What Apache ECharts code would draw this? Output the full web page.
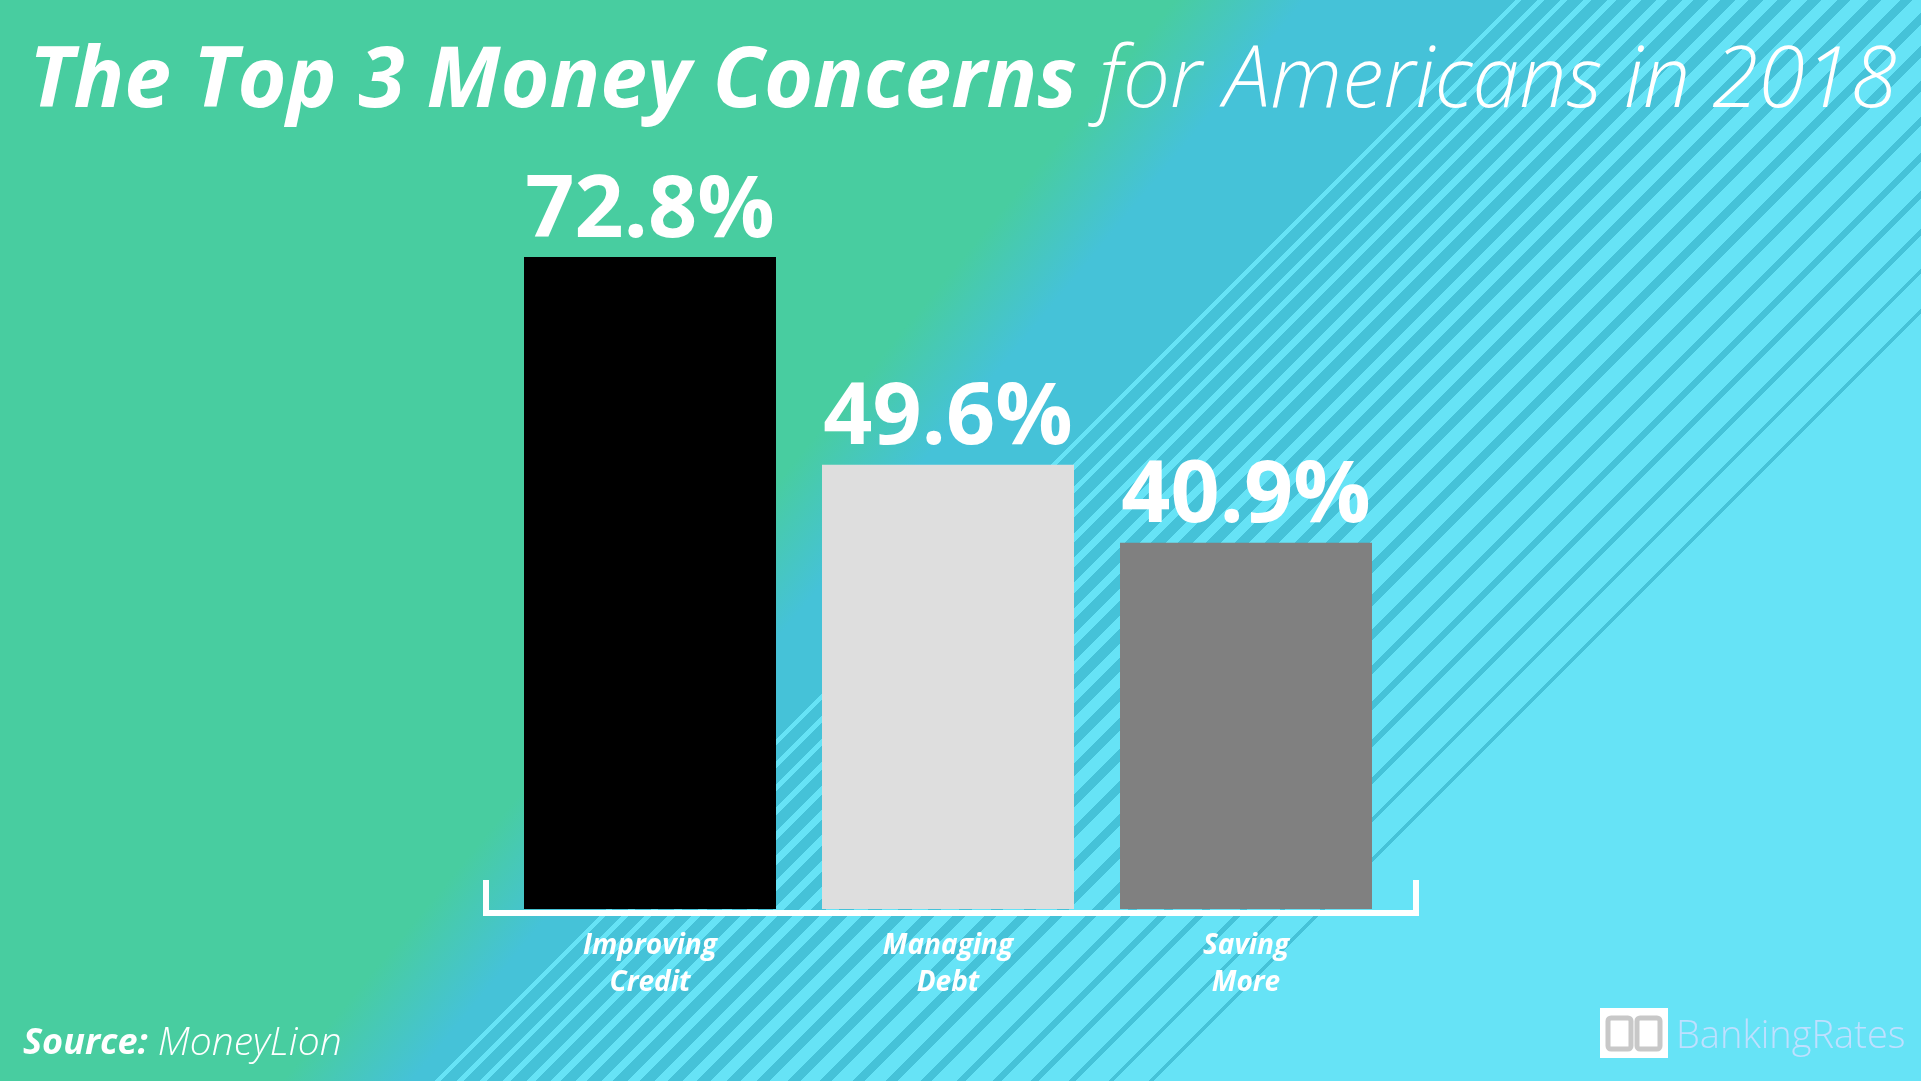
<!DOCTYPE html>
<html>
<head>
<meta charset="utf-8">
<script src="https://cdn.jsdelivr.net/npm/echarts@6/dist/echarts.min.js"></script>
<style>
  html, body { margin: 0; padding: 0; background: #48CDA0; }
  #chart { width: 1921px; height: 1081px; }
</style>
</head>
<body>
<div id="chart"></div>
<script>
// ---- data ----
var categories = ['Improving\nCredit', 'Managing\nDebt', 'Saving\nMore'];
var values = [72.8, 49.6, 40.9];
var barColors = ['#000000', '#DEDEDE', '#808080'];
var titleBold = 'The Top 3 Money Concerns';
var titleLight = 'for Americans in 2018';
var sourceLabel = 'Source:';
var sourceName = 'MoneyLion';
var brandName = 'BankingRates';

// ---- background (decoration) ----
var BLUE = '#45C2D8', CYAN = '#66E3F6';
var D = 3000; // stripe gradient runs along x+y, offset = (x+y)/D
function off(s) { return Math.max(0, Math.min(1, s / D)); }
var stops = [
  { offset: 0, color: BLUE },
  { offset: off(1500), color: BLUE }
];
var sStart = 1500, sEnd = 2240, s = sStart;
while (s < sEnd) {
  var f = (s - sStart) / (sEnd - sStart);
  var p = 22 + 20 * f;
  var light = p * (0.28 + 0.62 * f);
  var a = s + p - light, b = s + p;
  stops.push({ offset: off(a), color: BLUE });
  stops.push({ offset: off(a), color: CYAN });
  stops.push({ offset: off(Math.min(b, sEnd)), color: CYAN });
  if (b < sEnd) stops.push({ offset: off(b), color: BLUE });
  s = b;
}
stops.push({ offset: off(sEnd), color: CYAN });
stops.push({ offset: 1, color: CYAN });

// green area: boundary roughly through (1240,0) and (380,1041)
var NX = 1041, NY = 860, NN = NX * NX + NY * NY;
var gMid = (NX * 1240) / NN;
var gHalf = (50 * Math.sqrt(NN)) / NN;
var greenFill = {
  type: 'linear', x: 0, y: 0, x2: NX, y2: NY, global: true,
  colorStops: [
    { offset: 0, color: 'rgba(72,205,160,1)' },
    { offset: gMid - gHalf, color: 'rgba(72,205,160,1)' },
    { offset: gMid + gHalf, color: 'rgba(72,205,160,0)' },
    { offset: 1, color: 'rgba(72,205,160,0)' }
  ]
};

var chart = echarts.init(document.getElementById('chart'), null, { renderer: 'canvas' });

var option = {
  animation: false,
  backgroundColor: 'transparent',
  title: {
    left: 24,
    top: 28,
    text: '{b|' + titleBold + '}{l| ' + titleLight + '}',
    textStyle: {
      rich: {
        b: { fontFamily: 'Open Sans', fontStyle: 'italic', fontWeight: 'bold', fontSize: 84, color: '#ffffff', lineHeight: 100 },
        l: { fontFamily: 'Open Sans', fontStyle: 'italic', fontWeight: 300, fontSize: 84, color: '#ffffff', lineHeight: 100 }
      }
    }
  },
  grid: { left: 501, right: 526, top: 13.4, bottom: 172, containLabel: false },
  xAxis: {
    type: 'category',
    data: categories,
    axisLine: { show: false },
    axisTick: { show: false },
    axisLabel: {
      margin: 19,
      color: '#ffffff',
      fontFamily: 'Open Sans',
      fontStyle: 'italic',
      fontWeight: 'bold',
      fontSize: 28,
      lineHeight: 37,
      interval: 0
    }
  },
  yAxis: {
    type: 'value',
    min: 0,
    max: 100,
    show: false,
    splitLine: { show: false }
  },
  series: [{
    type: 'bar',
    barWidth: 252,
    data: values.map(function (v, i) { return { value: v, itemStyle: { color: barColors[i] } }; }),
    label: {
      show: true,
      position: 'top',
      distance: 2,
      formatter: '{c}%',
      color: '#ffffff',
      fontFamily: 'Open Sans',
      fontWeight: 'bold',
      fontSize: 86
    }
  }],
  graphic: [
    {
      type: 'rect', z: -100, silent: true,
      shape: { x: 0, y: 0, width: 1921, height: 1081 },
      style: { fill: { type: 'linear', x: 0, y: 0, x2: D / 2, y2: D / 2, global: true, colorStops: stops } }
    },
    {
      type: 'rect', z: -99, silent: true,
      shape: { x: 0, y: 0, width: 1921, height: 1081 },
      style: { fill: greenFill }
    },
    {
      type: 'polyline', z: 10, silent: true,
      shape: { points: [[486, 880], [486, 913], [1416, 913], [1416, 880]] },
      style: { stroke: '#ffffff', lineWidth: 6, fill: null, lineJoin: 'miter' }
    },
    {
      type: 'text', left: 23, top: 1024, silent: true,
      style: {
        text: '{b|' + sourceLabel + '}{l| ' + sourceName + '}',
        rich: {
          b: { fontFamily: 'Open Sans', fontStyle: 'italic', fontWeight: 'bold', fontSize: 36, fill: '#ffffff' },
          l: { fontFamily: 'Open Sans', fontStyle: 'italic', fontWeight: 300, fontSize: 39, fill: '#ffffff' }
        }
      }
    },
    {
      type: 'rect', z: 10, silent: true,
      shape: { x: 1600, y: 1008, width: 68, height: 50 },
      style: { fill: '#ffffff' }
    },
    {
      type: 'rect', z: 11, silent: true,
      shape: { x: 1608, y: 1018, width: 23, height: 31, r: 3 },
      style: { fill: null, stroke: '#c8c8c8', lineWidth: 5 }
    },
    {
      type: 'rect', z: 11, silent: true,
      shape: { x: 1637, y: 1018, width: 23, height: 31, r: 3 },
      style: { fill: null, stroke: '#c8c8c8', lineWidth: 5 }
    },
    {
      type: 'text', z: 10, left: 1676, top: 1018, silent: true,
      style: {
        text: brandName,
        fontFamily: 'Open Sans', fontWeight: 300, fontSize: 38,
        fill: '#bfe0ff'
      }
    }
  ]
};
chart.setOption(option);
</script>
</body>
</html>
